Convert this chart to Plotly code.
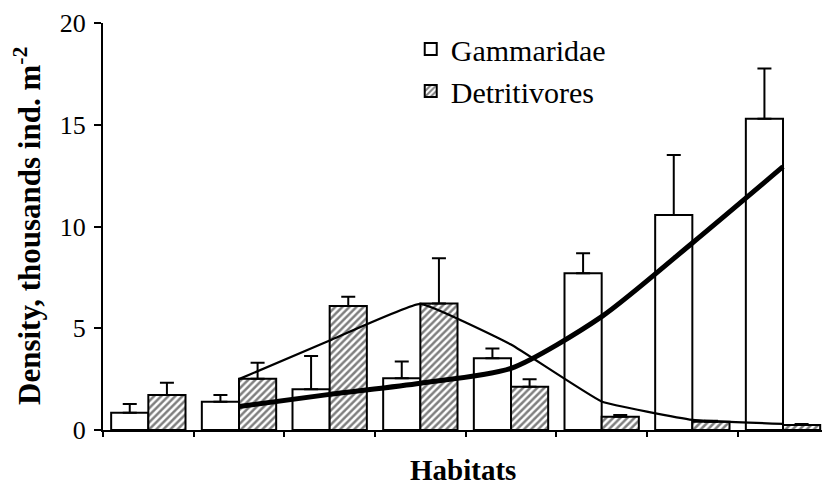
import plotly.graph_objects as go

habitats = ["H1", "H2", "H3", "H4", "H5", "H6", "H7", "H8"]
gammaridae = [0.85, 1.39, 2.0, 2.54, 3.52, 7.70, 10.57, 15.30]
gammaridae_err = [0.43, 0.33, 1.64, 0.82, 0.49, 0.98, 2.94, 2.47]
detritivores = [1.72, 2.52, 6.09, 6.22, 2.13, 0.65, 0.41, 0.25]
detritivores_err = [0.60, 0.79, 0.46, 2.22, 0.36, 0.09, 0.04, 0.04]

trend_habitats = ["H2", "H3", "H4", "H5", "H6", "H7", "H8"]
gammaridae_trend = [1.15, 1.75, 2.3, 3.03, 5.57, 9.19, 12.94]
detritivores_trend = [2.5, 4.4, 6.2, 4.2, 1.4, 0.5, 0.3]

FONT = "Liberation Serif"

fig = go.Figure()
fig.add_trace(go.Bar(
    x=habitats, y=gammaridae, name="Gammaridae",
    marker=dict(color="white", line=dict(color="black", width=2)),
    error_y=dict(type="data", array=gammaridae_err, arrayminus=[0]*8,
                 color="black", thickness=2, width=7),
))
fig.add_trace(go.Bar(
    x=habitats, y=detritivores, name="Detritivores",
    marker=dict(color="white", line=dict(color="black", width=2),
                pattern=dict(shape="/", fgcolor="black", bgcolor="white",
                             size=5, solidity=0.5)),
    error_y=dict(type="data", array=detritivores_err, arrayminus=[0]*8,
                 color="black", thickness=2, width=7),
))
fig.add_trace(go.Scatter(
    x=trend_habitats, y=detritivores_trend, mode="lines",
    line=dict(color="black", width=2.2, shape="spline", smoothing=0.3),
    showlegend=False, hoverinfo="skip",
))
fig.add_trace(go.Scatter(
    x=trend_habitats, y=gammaridae_trend, mode="lines",
    line=dict(color="black", width=5, shape="spline", smoothing=0.7),
    showlegend=False, hoverinfo="skip",
))

fig.update_layout(
    width=822, height=491,
    margin=dict(l=103, r=0, t=23, b=61),
    paper_bgcolor="white", plot_bgcolor="white",
    barmode="group", bargap=0.18, bargroupgap=0,
    font=dict(family=FONT, color="black", size=26),
    legend=dict(x=0.428, y=1.0, xanchor="left", yanchor="top",
                bgcolor="rgba(0,0,0,0)", font=dict(size=30, family=FONT),
                tracegroupgap=0, itemwidth=30),
    xaxis=dict(
        type="category", range=[-0.5, 7.43], automargin=False,
        showticklabels=False, ticks="outside", tickson="boundaries",
        ticklen=5, tickwidth=2, tickcolor="black",
        showline=True, linecolor="black", linewidth=2,
        showgrid=False, zeroline=False,
    ),
    yaxis=dict(
        range=[0, 20], tickvals=[0, 5, 10, 15, 20], automargin=False,
        ticks="outside", ticklen=7, tickwidth=2, tickcolor="black",
        ticklabelstandoff=3,
        showline=True, linecolor="black", linewidth=2,
        showgrid=False, zeroline=False,
        tickfont=dict(size=26, family=FONT),
    ),
    annotations=[
        dict(text="<b>Habitats</b>", xref="paper", yref="paper",
             x=0.5, y=-0.098, xanchor="center", yanchor="middle",
             showarrow=False, font=dict(size=29, family=FONT)),
        dict(text="<b>Density, thousands ind. m<sup>-2</sup></b>",
             xref="paper", yref="paper", x=-0.105, y=0.5,
             xanchor="center", yanchor="middle", textangle=-90,
             showarrow=False, font=dict(size=31, family=FONT)),
    ],
)

fig.write_html("out.html", config={"displayModeBar": False},
               post_script="document.body.style.margin='0';document.body.style.padding='0';")
